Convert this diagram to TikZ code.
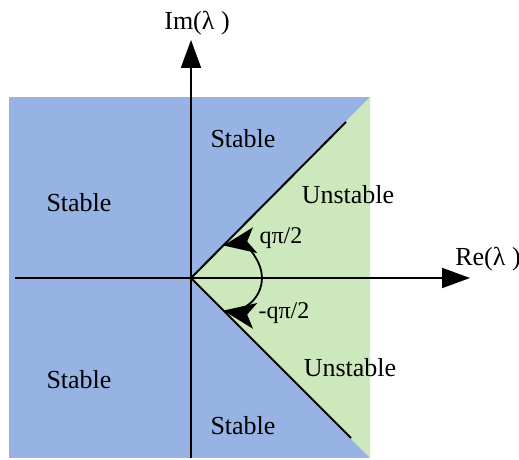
\documentclass[tikz,border=0pt]{standalone}
\usepackage{fontspec}
\setmainfont{Liberation Serif}
\usetikzlibrary{positioning, arrows.meta}
\definecolor{stableblue}{RGB}{150,179,227}
\definecolor{unstablegreen}{RGB}{205,232,188}

\begin{document}
\begin{tikzpicture}[
		x=0.5pt, y=0.5pt,
		axis/.style={draw=black, line width=1pt, -{Triangle[length=14pt, width=10pt]}},
		border/.style={draw=black, line width=1pt},
		anglearrow/.style={draw=black, line width=0.9pt, {Stealth[length=16pt, width=13pt, inset=4pt]}-{Stealth[length=16pt, width=13pt, inset=4pt]}},
		region_font/.style={font=\fontsize{13}{15}\selectfont},
		angle_font/.style={font=\fontsize{12}{14}\selectfont}
		]
		\useasboundingbox (0,0) rectangle (519,460);
		
		% --- REGIONS ---
		\coordinate (O) at (191,182);
		\coordinate (bl) at (9,2);
		\coordinate (tr) at (370,363);
		\coordinate (gtop) at (370,363);
		\coordinate (gbot) at (370,2);
		\fill[stableblue] (bl) rectangle (tr);
		\fill[unstablegreen] (O) -- (gtop) -- (gbot) -- cycle;
		
		% --- STABILITY BORDERS ---
		\coordinate (up) at (346,338);
		\coordinate (lo) at (351,22);
		\draw[border] (O) -- (up);
		\draw[border] (O) -- (lo);
		
		% --- AXES ---
		\coordinate (ybot) at (191,2);
		\coordinate (ytop) at (191,420);
		\coordinate (xleft) at (15,182);
		\coordinate (xright) at (470,182);
		\draw[axis] (ybot) -- (ytop);
		\draw[axis] (xleft) -- (xright);
		\node[region_font] (im) at (197,437) {Im(λ )};
		\node[region_font] (re) at (488,201) {Re(λ )};
		
		% --- ANGLE ---
		\coordinate (a1) at (223.5,214.5);
		\draw[anglearrow] (a1) arc[start angle=99.5, end angle=-99.5, radius=33];
		\node[angle_font] (qp) at (281,222) {qπ/2};
		\node[angle_font] (qm) at (284,147) {-qπ/2};
		
		% --- REGION LABELS ---
		\node[region_font] (s1) at (79,257) {Stable};
		\node[region_font] (s2) at (79,80) {Stable};
		\node[region_font] (s3) at (243,321) {Stable};
		\node[region_font] (s4) at (243,34) {Stable};
		\node[region_font] (u1) at (348,265) {Unstable};
		\node[region_font] (u2) at (350,92) {Unstable};
		
	\end{tikzpicture}
\end{document}
